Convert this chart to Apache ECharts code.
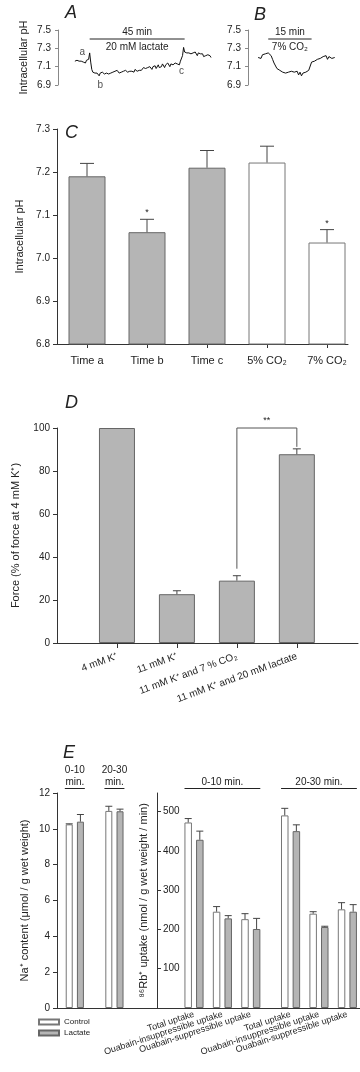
<!DOCTYPE html>
<html>
<head>
<meta charset="utf-8">
<script src="https://cdn.jsdelivr.net/npm/echarts@6.0.0/dist/echarts.min.js"></script>
<style>
html, body { margin: 0; padding: 0; background: #fff; }
#main { width: 360px; height: 1072px; }
</style>
</head>
<body>
<div id="main"></div>
<script>
var FONT = '"Liberation Sans", Arial, Helvetica, sans-serif';
var INK = '#222';
var AXIS = '#333';
var GREY = '#b5b5b5';

// ---- A / B : pH traces (one sample every 0.5 min) ----
var traceStep = 0.5;
var traceAStart = -7;
var traceApH = [
  7.16, 7.15, 7.17, 7.15, 7.16, 7.14, 7.16, 7.17, 7.15, 7.16, 7.14, 7.17, 7.16, 7.18,
  7.25, 7.15, 7.07, 7.04, 7.02, 7.03, 7.01, 7.03, 7.02, 7.00,
  7.03, 7.02, 7.04, 7.03, 7.02, 7.04, 7.03, 7.05, 7.02, 7.04,
  7.03, 7.05, 7.04, 7.03, 7.05, 7.04, 7.06, 7.04, 7.03, 7.05,
  7.04, 7.06, 7.05, 7.03, 7.06, 7.05, 7.04, 7.06, 7.05, 7.07,
  7.05, 7.06, 7.04, 7.07, 7.06, 7.05, 7.07, 7.06, 7.08, 7.06,
  7.07, 7.09, 7.07, 7.08, 7.06, 7.09, 7.08, 7.10, 7.08, 7.07,
  7.10, 7.09, 7.11, 7.08, 7.10, 7.12, 7.09, 7.11, 7.10, 7.13,
  7.11, 7.09, 7.12, 7.11, 7.14, 7.12, 7.10, 7.13, 7.15, 7.12,
  7.11, 7.14, 7.16, 7.13, 7.15, 7.12, 7.16, 7.14, 7.22, 7.31,
  7.26, 7.28, 7.25, 7.27, 7.25, 7.26, 7.24, 7.26, 7.25, 7.23,
  7.26, 7.24, 7.22, 7.25, 7.23, 7.24, 7.22, 7.24, 7.21, 7.23,
  7.22, 7.20, 7.23, 7.21, 7.22, 7.20
];
var traceBStart = -3.5;
var traceBpH = [
  7.20, 7.22, 7.19, 7.23, 7.21, 7.24, 7.22,
  7.25, 7.27, 7.22, 7.18, 7.14, 7.12, 7.08, 7.09, 7.06, 7.07,
  7.04, 7.06, 7.03, 7.05, 7.04, 7.02, 7.05, 7.03, 7.04, 7.02,
  7.05, 7.01, 7.04, 7.00, 7.03, 7.02, 7.04, 7.03, 7.06, 7.08,
  7.15, 7.13, 7.16, 7.14, 7.18, 7.16, 7.19, 7.17, 7.21, 7.19,
  7.22, 7.18, 7.21, 7.23, 7.19, 7.21, 7.20
];
var traceTicks = [6.9, 7.1, 7.3, 7.5];
var lactatePeriod = [0, 45];
var co2Period = [0, 15];
var traceAMarkers = [['a', -3.5], ['b', 5], ['c', 43.5]];

// ---- C : intracellular pH ----
var phCategories = ['Time a', 'Time b', 'Time c', '5% CO₂', '7% CO₂'];
var phMean = [7.19, 7.06, 7.21, 7.222, 7.036];
var phSem = [0.03, 0.03, 0.04, 0.038, 0.03];
var phSig = ['', '*', '', '', '*'];
var phCondition = ['lactate', 'lactate', 'lactate', 'co2', 'co2'];
var phTicks = [6.8, 6.9, 7.0, 7.1, 7.2, 7.3];

// ---- D : force ----
var forceCategories = ['4 mM K⁺', '11 mM K⁺', '11 mM K⁺ and 7 % CO₂', '11 mM K⁺ and 20 mM lactate'];
var forceMean = [100, 22.7, 29.0, 87.8];
var forceSem = [0, 1.6, 2.3, 2.5];
var forceBracket = [2, 3, 100, '**'];
var forceTicks = [0, 20, 40, 60, 80, 100];

// ---- E : Na+ content and 86Rb+ uptake ----
var periods = ['0-10', '20-30'];
var naControl = [10.25, 11.0];
var naControlSem = [0.03, 0.26];
var naLactate = [10.4, 10.98];
var naLactateSem = [0.4, 0.12];
var naTicks = [0, 2, 4, 6, 8, 10, 12];
var uptakeTypes = ['Total uptake', 'Ouabain-insuppressible uptake', 'Ouabain-suppressible uptake'];
var rbControl = [472, 245, 226, 490, 240, 251];
var rbControlSem = [10, 13, 14, 18, 5, 17];
var rbLactate = [428, 228, 201, 450, 206, 245];
var rbLactateSem = [22, 7, 27, 16, 2, 18];
var rbTicks = [100, 200, 300, 400, 500];
var rbMax = 547;

// position of each bar group on the Rb axis (3 types per period, small gap between periods)
var rbGroupStride = 3.4;
var rbPos = [];
periods.forEach(function (p, g) {
  uptakeTypes.forEach(function (t, k) { rbPos.push(g * rbGroupStride + k); });
});
var rbXMin = -1.303, rbXMax = 5.845;

function traceData(start, arr) {
  return arr.map(function (v, i) { return [start + i * traceStep, v]; });
}
function phAt(start, arr, t) {
  return arr[Math.round((t - start) / traceStep)];
}

var greyStyle = { color: GREY, borderColor: '#666', borderWidth: 1 };
var whiteStyle = { color: '#fff', borderColor: '#777', borderWidth: 1 };

function txt(s, x, y, size, align, vAlign) {
  return { type: 'text', style: { text: s, x: x, y: y, fill: INK, fontSize: size || 10, fontFamily: FONT,
    align: align || 'center', verticalAlign: vAlign || 'middle' } };
}
function seg(x1, y1, x2, y2, color) {
  return { type: 'line', shape: { x1: x1, y1: y1, x2: x2, y2: y2 }, style: { stroke: color || '#444', lineWidth: 1 } };
}

function errorSeries(axis, pos, means, sems, dx, cap, marks) {
  return {
    type: 'custom', xAxisIndex: axis, yAxisIndex: axis, silent: true, z: 5,
    data: pos.map(function (p, i) { return [p, means[i], sems[i]]; }),
    renderItem: function (params, api) {
      var i = params.dataIndex;
      var a = api.coord([api.value(0), api.value(1)]);
      var b = api.coord([api.value(0), api.value(1) + api.value(2)]);
      var x = a[0] + dx;
      var kids = [];
      if (api.value(2) > 0) {
        kids.push(seg(x, a[1], x, b[1]));
        kids.push(seg(x - cap / 2, b[1], x + cap / 2, b[1]));
      }
      if (marks && marks[i]) kids.push(txt(marks[i], x, b[1] - 2, 9, 'center', 'bottom'));
      return { type: 'group', children: kids };
    }
  };
}

function periodSeries(axis, period, top, bottom) {
  return {
    type: 'custom', xAxisIndex: axis, yAxisIndex: axis, silent: true,
    data: [[period[0], 7.4]],
    renderItem: function (params, api) {
      var a = api.coord([period[0], traceTicks[3]]);
      var b = api.coord([period[1], traceTicks[3]]);
      var y = a[1] + 9;
      var cx = (a[0] + b[0]) / 2;
      return { type: 'group', children: [
        seg(a[0], y, b[0], y, '#222'),
        txt(top, cx, y - 7, 10),
        txt(bottom, cx, y + 8, 10)
      ] };
    }
  };
}

function yAxisDef(grid, min, max, ticks, name, gap, digits, extra) {
  var ax = {
    type: 'value', gridIndex: grid, min: min, max: max,
    name: name, nameLocation: 'middle', nameGap: gap,
    nameTextStyle: { fontSize: 11, color: INK, fontFamily: FONT },
    axisLine: { show: true, onZero: false, lineStyle: { color: AXIS, width: 1 } },
    axisTick: { show: true, length: 4, customValues: ticks, lineStyle: { color: AXIS } },
    axisLabel: { customValues: ticks, fontSize: 10, color: INK, fontFamily: FONT, margin: 7, hideOverlap: false,
      showMinLabel: true, showMaxLabel: true,
      formatter: function (v) { return digits ? v.toFixed(digits) : String(v); } },
    splitLine: { show: false }
  };
  if (extra) Object.keys(extra).forEach(function (k) { ax[k] = Object.assign(ax[k] || {}, extra[k]); });
  return ax;
}

var grids = [
  { left: 58, top: 30, width: 158.3, height: 55 },   // A
  { left: 248, top: 30, width: 92.5, height: 55 },   // B
  { left: 57, top: 129, width: 291, height: 215 },   // C
  { left: 57, top: 428, width: 301, height: 215 },   // D
  { left: 57, top: 793, width: 100, height: 215 },   // E Na
  { left: 157, top: 793, width: 203, height: 215 }   // E Rb
].map(function (g) { g.outerBoundsMode = 'none'; return g; });

var phIdx = phCategories.map(function (c, i) { return i; });
var forceIdx = forceCategories.map(function (c, i) { return i; });
var naIdx = periods.map(function (c, i) { return i; });

var xAxes = [
  { type: 'value', gridIndex: 0, min: -15, max: 60, show: false },
  { type: 'value', gridIndex: 1, min: -7, max: 25, show: false },
  { type: 'value', gridIndex: 2, min: -0.5, max: 4.35, splitLine: { show: false },
    axisLine: { show: true, onZero: false, lineStyle: { color: AXIS } },
    axisTick: { show: true, length: 4, customValues: phIdx, lineStyle: { color: AXIS } },
    axisLabel: { customValues: phIdx, fontSize: 11, color: INK, fontFamily: FONT, margin: 11, hideOverlap: false,
      showMinLabel: true, showMaxLabel: true,
      formatter: function (v) { return phCategories[Math.round(v)]; } } },
  { type: 'value', gridIndex: 3, min: -1, max: 4.02, splitLine: { show: false },
    axisLine: { show: true, onZero: false, lineStyle: { color: AXIS } },
    axisTick: { show: true, length: 5, customValues: forceIdx, lineStyle: { color: AXIS } },
    axisLabel: { customValues: forceIdx, fontSize: 10, color: INK, fontFamily: FONT, margin: 13, rotate: 20, hideOverlap: false,
      showMinLabel: true, showMaxLabel: true,
      formatter: function (v) { return forceCategories[Math.round(v)]; } } },
  { type: 'value', gridIndex: 4, min: -0.45, max: 2.075, splitLine: { show: false },
    axisLine: { show: true, onZero: false, lineStyle: { color: AXIS } }, axisTick: { show: false }, axisLabel: { show: false } },
  { type: 'value', gridIndex: 5, min: rbXMin, max: rbXMax, splitLine: { show: false },
    axisLine: { show: true, onZero: false, lineStyle: { color: AXIS } }, axisTick: { show: false },
    // empty labels at both ends so the long rotated labels are never dropped as min/max overlaps
    axisLabel: { customValues: [rbXMin].concat(rbPos, [rbXMax]), fontSize: 9, color: INK, fontFamily: FONT,
      margin: 6, rotate: 18, hideOverlap: false,
      formatter: function (v) {
        for (var k = 0; k < rbPos.length; k++) if (Math.abs(rbPos[k] - v) < 1e-6) return uptakeTypes[k % uptakeTypes.length];
        return '';
      } } }
];

var yAxes = [
  yAxisDef(0, 6.9, 7.5, traceTicks, 'Intracellular pH', 29, 1,
    { axisLine: { lineStyle: { color: '#888' } }, axisTick: { length: 3, lineStyle: { color: '#888' } } }),
  yAxisDef(1, 6.9, 7.5, traceTicks, '', 10, 1,
    { axisLine: { lineStyle: { color: '#888' } }, axisTick: { length: 3, lineStyle: { color: '#888' } } }),
  yAxisDef(2, 6.8, 7.3, phTicks, 'Intracellular pH', 29, 1),
  yAxisDef(3, 0, 100, forceTicks, 'Force (% of force at 4 mM K⁺)', 36, 0),
  yAxisDef(4, 0, 12, naTicks, 'Na⁺ content (μmol / g wet weight)', 27, 0),
  yAxisDef(5, 0, rbMax, rbTicks, '⁸⁶Rb⁺ uptake (nmol / g wet weight / min)', 8, 0,
    { axisTick: { inside: true }, axisLabel: { inside: true, margin: 6 } })
];

var series = [
  { type: 'line', xAxisIndex: 0, yAxisIndex: 0, data: traceData(traceAStart, traceApH), showSymbol: false,
    lineStyle: { color: '#111', width: 1 }, silent: true },
  { type: 'line', xAxisIndex: 1, yAxisIndex: 1, data: traceData(traceBStart, traceBpH), showSymbol: false,
    lineStyle: { color: '#111', width: 1 }, silent: true },
  periodSeries(0, lactatePeriod, (lactatePeriod[1] - lactatePeriod[0]) + ' min', '20 mM lactate'),
  periodSeries(1, co2Period, (co2Period[1] - co2Period[0]) + ' min', '7% CO₂'),
  { type: 'scatter', xAxisIndex: 0, yAxisIndex: 0, symbolSize: 0, silent: true,
    data: traceAMarkers.map(function (m, i) {
      return { value: [m[1], phAt(traceAStart, traceApH, m[1])], name: m[0],
        label: { show: true, formatter: m[0], position: i === 0 ? 'top' : 'bottom', distance: i === 1 ? 7 : 3,
          fontSize: 10, color: INK, fontFamily: FONT } };
    }) },

  // C
  { type: 'bar', xAxisIndex: 2, yAxisIndex: 2, barWidth: 37, silent: true,
    data: phMean.map(function (v, i) {
      return { value: [i, v], itemStyle: phCondition[i] === 'co2' ? whiteStyle : greyStyle };
    }) },
  errorSeries(2, phIdx, phMean, phSem, 0, 14, phSig),

  // D
  { type: 'bar', xAxisIndex: 3, yAxisIndex: 3, barWidth: 36, silent: true,
    data: forceMean.map(function (v, i) { return { value: [i, v], itemStyle: greyStyle }; }) },
  errorSeries(3, forceIdx, forceMean, forceSem, 0, 8),
  { type: 'custom', xAxisIndex: 3, yAxisIndex: 3, silent: true, z: 6,
    data: [forceBracket],
    renderItem: function (params, api) {
      var f = forceBracket[0], t = forceBracket[1];
      var a = api.coord([f, forceBracket[2]]);
      var b = api.coord([t, forceBracket[2]]);
      var fa = api.coord([f, forceMean[f] + forceSem[f]]);
      var tb = api.coord([t, forceMean[t] + forceSem[t]]);
      return { type: 'group', children: [
        seg(a[0], a[1], b[0], b[1], '#555'),
        seg(a[0], a[1], a[0], fa[1] - 7, '#555'),
        seg(b[0], b[1], b[0], tb[1] - 2, '#555'),
        txt(forceBracket[3], (a[0] + b[0]) / 2, a[1] - 3, 9, 'center', 'bottom')
      ] };
    } },

  // E Na
  { type: 'bar', name: 'Control', xAxisIndex: 4, yAxisIndex: 4, barWidth: 7, barGap: '60%', silent: true,
    itemStyle: whiteStyle, data: naControl.map(function (v, i) { return [i, v]; }) },
  { type: 'bar', name: 'Lactate', xAxisIndex: 4, yAxisIndex: 4, barWidth: 7, barGap: '60%', silent: true,
    itemStyle: greyStyle, data: naLactate.map(function (v, i) { return [i, v]; }) },
  errorSeries(4, naIdx, naControl, naControlSem, -5.6, 7),
  errorSeries(4, naIdx, naLactate, naLactateSem, 5.6, 7),
  { type: 'custom', xAxisIndex: 4, yAxisIndex: 4, silent: true,
    data: naIdx.map(function (i) { return [i, 0]; }),
    renderItem: function (params, api) {
      var c = api.coord([api.value(0), naTicks[naTicks.length - 1]]);
      return { type: 'group', children: [
        txt(periods[params.dataIndex], c[0], c[1] - 23, 10),
        txt('min.', c[0], c[1] - 11, 10),
        seg(c[0] - 10, c[1] - 4.5, c[0] + 10, c[1] - 4.5, '#222')
      ] };
    } },

  // E Rb
  { type: 'bar', name: 'Control', xAxisIndex: 5, yAxisIndex: 5, barWidth: 7.5, barGap: '55%', silent: true,
    itemStyle: whiteStyle, data: rbControl.map(function (v, i) { return [rbPos[i], v]; }) },
  { type: 'bar', name: 'Lactate', xAxisIndex: 5, yAxisIndex: 5, barWidth: 7.5, barGap: '55%', silent: true,
    itemStyle: greyStyle, data: rbLactate.map(function (v, i) { return [rbPos[i], v]; }) },
  errorSeries(5, rbPos, rbControl, rbControlSem, -5.8, 7),
  errorSeries(5, rbPos, rbLactate, rbLactateSem, 5.8, 7),
  { type: 'custom', xAxisIndex: 5, yAxisIndex: 5, silent: true,
    data: periods.map(function (p, g) { return [rbPos[g * 3], 0]; }),
    renderItem: function (params, api) {
      var g = params.dataIndex;
      var a = api.coord([rbPos[g * 3], rbMax]);
      var b = api.coord([rbPos[g * 3 + 2], rbMax]);
      return { type: 'group', children: [
        txt(periods[g] + ' min.', (a[0] + b[0]) / 2, a[1] - 11, 10),
        seg(a[0] - 9.5, a[1] - 4.5, b[0] + 9.5, a[1] - 4.5, '#222')
      ] };
    } }
];

var letter = function (s, left, top) {
  return { text: s, left: left, top: top, padding: 0,
    textStyle: { fontSize: 18, fontStyle: 'italic', fontWeight: 'normal', color: INK, fontFamily: FONT } };
};

var chart = echarts.init(document.getElementById('main'), null, { renderer: 'canvas' });
chart.setOption({
  animation: false,
  backgroundColor: '#fff',
  textStyle: { fontFamily: FONT },
  title: [letter('A', 65, 4), letter('B', 254, 6), letter('C', 65, 124), letter('D', 65, 394), letter('E', 63, 744)],
  legend: { data: ['Control', 'Lactate'], left: 33, top: 1013, orient: 'vertical', icon: 'rect',
    itemWidth: 20, itemHeight: 5, itemGap: 3, selectedMode: false,
    textStyle: { fontSize: 8, color: INK, fontFamily: FONT } },
  grid: grids,
  xAxis: xAxes,
  yAxis: yAxes,
  series: series
});
</script>
</body>
</html>
